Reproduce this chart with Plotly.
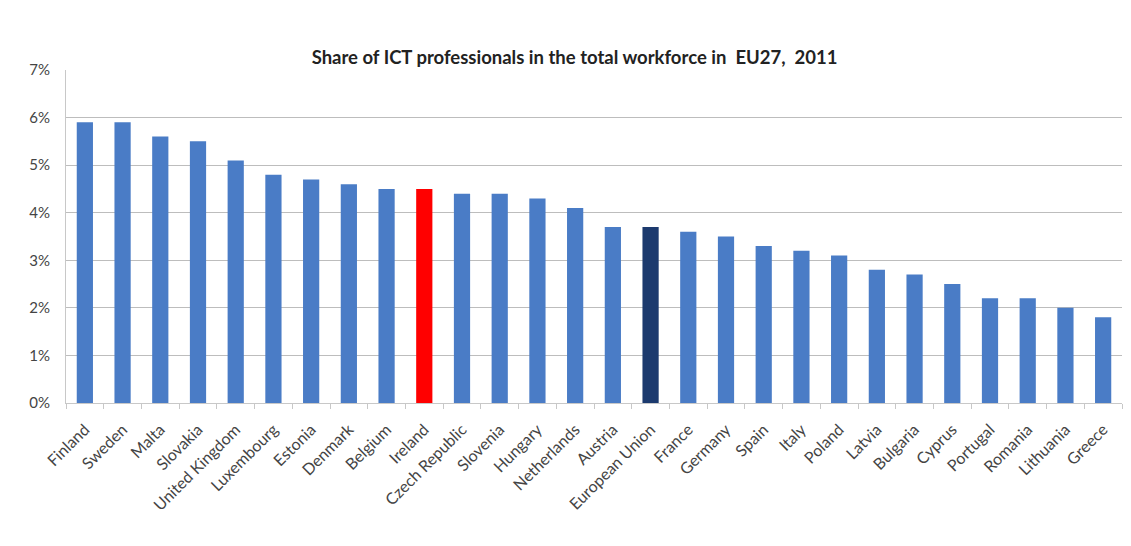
import plotly.graph_objects as go

countries = [
    "Finland", "Sweden", "Malta", "Slovakia", "United Kingdom", "Luxembourg",
    "Estonia", "Denmark", "Belgium", "Ireland", "Czech Republic", "Slovenia",
    "Hungary", "Netherlands", "Austria", "European Union", "France", "Germany",
    "Spain", "Italy", "Poland", "Latvia", "Bulgaria", "Cyprus", "Portugal",
    "Romania", "Lithuania", "Greece",
]
share_pct = [
    5.9, 5.9, 5.6, 5.5, 5.1, 4.8,
    4.7, 4.6, 4.5, 4.5, 4.4, 4.4,
    4.3, 4.1, 3.7, 3.7, 3.6, 3.5,
    3.3, 3.2, 3.1, 2.8, 2.7, 2.5, 2.2,
    2.2, 2.0, 1.8,
]
y_ticks = [0, 1, 2, 3, 4, 5, 6, 7]
y_tick_labels = ["0%", "1%", "2%", "3%", "4%", "5%", "6%", "7%"]

BLUE = "#4a7cc6"
HIGHLIGHT = {"Ireland": "#ff0000", "European Union": "#1c3a6e"}
colors = [HIGHLIGHT.get(c, BLUE) for c in countries]

FONT = "Lato, Open Sans, sans-serif"

fig = go.Figure(
    go.Bar(
        x=countries,
        y=share_pct,
        marker=dict(color=colors, line=dict(width=0)),
        hoverinfo="x+y",
    )
)

fig.update_layout(
    width=1131,
    height=546,
    margin=dict(l=66, r=9, t=70, b=143),
    paper_bgcolor="white",
    plot_bgcolor="white",
    bargap=0.57,
    showlegend=False,
    font=dict(family=FONT, color="#444444", size=15),
    title=dict(
        text="<b>Share of ICT professionals in the total workforce in  EU27,  2011</b>",
        x=0.508,
        xanchor="center",
        y=0.895,
        yanchor="middle",
        font=dict(size=18.5, color="#222222", family=FONT),
    ),
)

fig.update_yaxes(
    range=[0, 7],
    tickvals=y_ticks,
    ticktext=y_tick_labels,
    showgrid=True,
    gridcolor="#bdbdbd",
    gridwidth=1,
    zeroline=False,
    showline=True,
    linecolor="#c8c8c8",
    ticks="",
    ticklabelstandoff=12,
    tickfont=dict(size=15, color="#444444"),
    fixedrange=True,
)

fig.update_xaxes(
    tickangle=-45,
    showline=True,
    linecolor="#c8c8c8",
    ticks="outside",
    tickson="boundaries",
    ticklen=5,
    tickcolor="#c8c8c8",
    showgrid=False,
    ticklabelstandoff=10,
    tickfont=dict(size=16, color="#444444"),
    fixedrange=True,
)

fig.write_html("out.html")
